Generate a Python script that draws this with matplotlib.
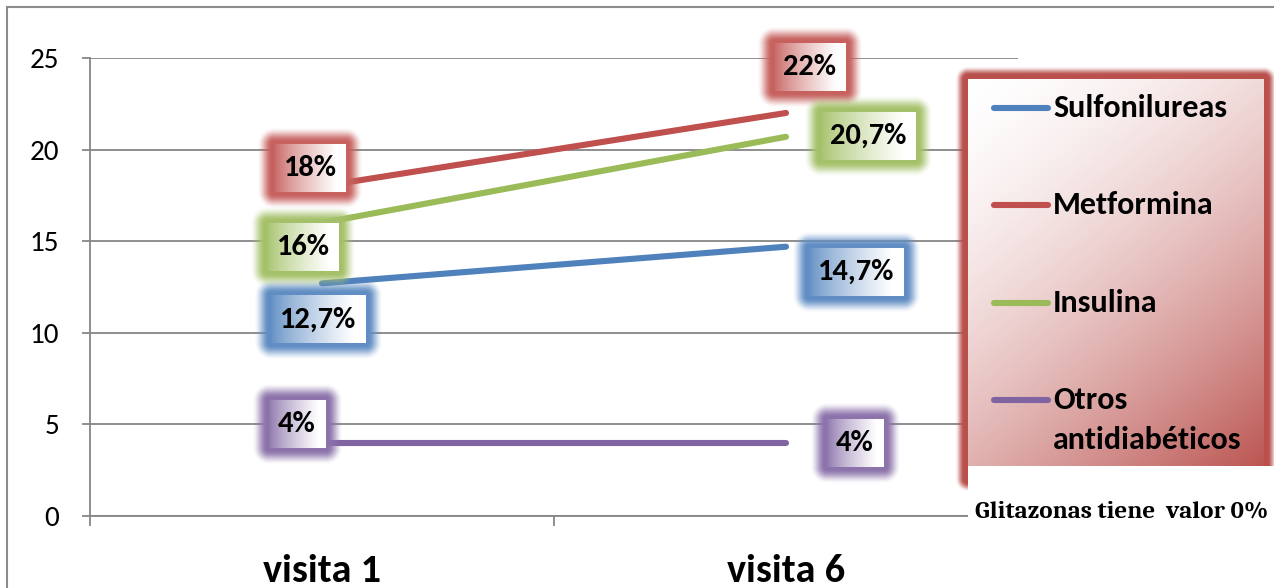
import numpy as np
import matplotlib.pyplot as plt
from matplotlib.colors import to_rgb
from matplotlib.lines import Line2D
from matplotlib.patches import Rectangle
from matplotlib.transforms import IdentityTransform

visitas = ['visita 1', 'visita 6']
series = ['Sulfonilureas', 'Metformina', 'Insulina', 'Otros\nantidiabéticos']
sulfonilureas = [12.7, 14.7]
metformina = [18, 22]
insulina = [16, 20.7]
otros = [4, 4]
nota = 'Glitazonas tiene  valor 0%'

valores = [sulfonilureas, metformina, insulina, otros]
colores = ['#4F81BD', '#C0504D', '#9BBB59', '#8064A2']

# desplazamiento (px) del centro de cada etiqueta respecto a su punto
desplaz = [[(-4, -36), (70, -25)],
           [(-12, 18), (24, 46)],
           [(-19, -24), (82, 1)],
           [(-25, 19), (69, 0)]]

SANS = ['Carlito', 'Liberation Sans', 'DejaVu Sans']
SERIF = ['Caladea', 'Liberation Serif', 'DejaVu Serif']
W, H = 1274, 588
PIX = IdentityTransform()


def caja(w, h, color, g, peso, nucleo=0.3, claro=0.0):
    """Rectangulo con degradado interior y halo difuso alrededor.
    peso(u, v) da la proporcion de color (0 = blanco) dentro de la caja."""
    HH, WW = h + 2 * g, w + 2 * g
    yy, xx = np.mgrid[0:HH, 0:WW] + 0.5
    dx = np.maximum(np.maximum(g - xx, xx - (g + w)), 0)
    dy = np.maximum(np.maximum(g - yy, yy - (g + h)), 0)
    d = np.hypot(dx, dy)
    rgb = np.array(to_rgb(color)) * (1 - claro) + claro
    dentro = (dx == 0) & (dy == 0)
    t = peso((xx - g) / w, (yy - g) / h)[..., None]
    img = np.zeros((HH, WW, 4))
    img[..., :3] = np.where(dentro[..., None], rgb * t + (1 - t), rgb)
    s = np.clip((g - d) / ((1 - nucleo) * g), 0, 1)
    halo = s * s * (3 - 2 * s)
    img[..., 3] = np.where(dentro, 1.0, halo)
    return img


fig = plt.figure(figsize=(W / 100, H / 100), dpi=100)
ax = fig.add_axes([90 / W, (H - 516) / H, 928 / W, 458 / H])
ax.set_xlim(0, 2)
ax.set_ylim(0, 25)
ax.set_yticks(range(0, 26, 5))
ax.yaxis.grid(True, color='#868686', lw=1.3)
ax.set_axisbelow(True)
for s in ['top', 'right']:
    ax.spines[s].set_visible(False)
for s in ['left', 'bottom']:
    ax.spines[s].set_color('#868686')
    ax.spines[s].set_linewidth(1.3)

ax.tick_params(axis='y', length=6, width=1.3, color='#868686', pad=16,
               labelsize=21)
for lab in ax.get_yticklabels():
    lab.set_family(SANS)

xs = np.arange(len(visitas)) + 0.5
ax.set_xticks(xs)
ax.set_xticklabels(visitas, fontsize=29, fontweight='bold', family=SANS)
ax.set_xticks([0, 1, 2], minor=True)
ax.tick_params(axis='x', which='major', length=0, pad=27)
ax.tick_params(axis='x', which='minor', length=7, width=1.3, color='#868686')

for vals, col in zip(valores, colores):
    ax.plot(xs, vals, color=col, lw=4.4, solid_capstyle='round', zorder=3)

fig.canvas.draw()
rend = fig.canvas.get_renderer()


# etiquetas de valor: color a la izquierda que se aclara hacia la derecha
def peso_etiqueta(u, v):
    return 1 - np.clip(u * 1.15, 0, 1) ** 0.75


for vals, col, offs in zip(valores, colores, desplaz):
    for x, v, (ox, oy) in zip(xs, vals, offs):
        px, py = ax.transData.transform((x, v))
        cx, cy = px + ox, py + oy
        txt = f'{v:g}'.replace('.', ',') + '%'
        t = fig.text(cx, cy, txt, transform=PIX, ha='center', va='center',
                     fontsize=22, fontweight='bold', family=SANS, zorder=4)
        bw = t.get_window_extent(rend).width
        w, h, g = int(round(bw + 19)), 48, 17
        img = caja(w, h, col, g, peso_etiqueta, nucleo=0.12, claro=0.1)
        fig.figimage(img, xo=int(round(cx - w / 2 - g)),
                     yo=int(round(cy - h / 2 - g)), origin='upper', zorder=1)


# leyenda: blanco arriba a la izquierda, rojo abajo a la derecha
def peso_leyenda(u, v):
    return np.clip((0.6 * u + v) / 1.6, 0, 1) ** 1.6


lx0, ly0, lw_, lh_ = 968, 79, 296, 400
g = 13
img = caja(lw_, lh_, '#B9504C', g, peso_leyenda, nucleo=0.3)
fig.figimage(img, xo=lx0 - g, yo=H - (ly0 - g) - img.shape[0],
             origin='upper', zorder=1)

ys_ley = [108, 205, 303, 400]
for nombre, col, y in zip(series, colores, ys_ley):
    fig.add_artist(Line2D([994, 1048], [H - y, H - y], transform=PIX,
                          color=col, lw=4.4, solid_capstyle='round', zorder=3))
    for k, linea in enumerate(nombre.split('\n')):
        fig.text(1053, H - y - 40 * k, linea, transform=PIX, ha='left',
                 va='center', fontsize=23, fontweight='bold', family=SANS,
                 zorder=4)

# recuadro blanco con la nota
fig.add_artist(Rectangle((968, H - 545), 320, 545 - 466, transform=PIX,
                         facecolor='white', edgecolor='none', zorder=2))
t = fig.text(975, H - 512, nota, transform=PIX, ha='left', va='center',
             fontsize=20, fontweight='bold', family=SERIF, zorder=4)
ancho = t.get_window_extent(rend).width
t.set_fontsize(20 * 293 / ancho)

# marco exterior
fig.add_artist(Rectangle((7, -20), 1300, H - 7 + 20, transform=PIX,
                         fill=False, edgecolor='#8c8c8c', lw=1.5, zorder=5))

fig.savefig('out.png', dpi=100)
